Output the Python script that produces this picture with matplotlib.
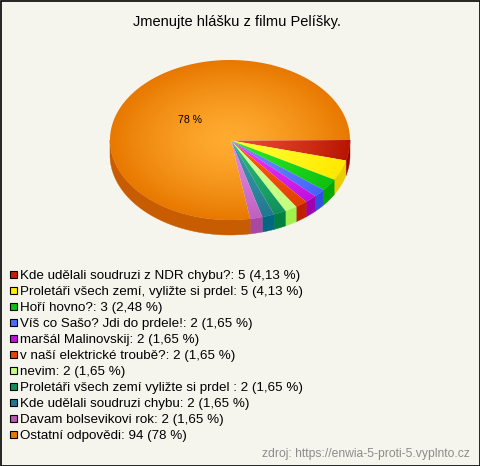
import numpy as np
import matplotlib
matplotlib.use("Agg")
import matplotlib.pyplot as plt
from matplotlib.patches import Polygon, Rectangle

plt.rcParams["font.family"] = ["Liberation Sans", "DejaVu Sans"]

title = "Jmenujte hlášku z filmu Pelíšky."
source = "zdroj: https://enwia-5-proti-5.vyplnto.cz"
labels = [
    "Kde udělali soudruzi z NDR chybu?: 5 (4,13 %)",
    "Proletáři všech zemí, vyližte si prdel: 5 (4,13 %)",
    "Hoří hovno?: 3 (2,48 %)",
    "Víš co Sašo? Jdi do prdele!: 2 (1,65 %)",
    "maršál Malinovskij: 2 (1,65 %)",
    "v naší elektrické troubě?: 2 (1,65 %)",
    "nevim: 2 (1,65 %)",
    "Proletáři všech zemí vyližte si prdel : 2 (1,65 %)",
    "Kde udělali soudruzi chybu: 2 (1,65 %)",
    "Davam bolsevikovi rok: 2 (1,65 %)",
    "Ostatní odpovědi: 94 (78 %)",
]
values = [5, 5, 3, 2, 2, 2, 2, 2, 2, 2, 94]
inner_colors = ["#e84a30", "#ffff30", "#28e828", "#6a8cff", "#e838f8", "#ff5a18",
                "#d0ff90", "#28b878", "#3898a8", "#e088e0", "#ffac30"]
outer_colors = ["#b81500", "#ffe800", "#10c010", "#4464f8", "#c010e0", "#e04000",
                "#c4ff80", "#109058", "#207890", "#c060c0", "#e87800"]
side_colors = ["#a00000", "#e8d000", "#00a800", "#3050e0", "#a000b0", "#c02000",
               "#a0f050", "#008040", "#006880", "#a848a0", "#c85c00"]
legend_colors = ["#c81e00", "#ffee00", "#10c010", "#4a6cf8", "#c010d8", "#e04800",
                 "#c4ff80", "#109058", "#207890", "#b858b0", "#e87800"]

cx, cy, rx, ry, depth = 230, 140, 120, 80, 15
apex_x, apex_y = 231, 140.5

fig = plt.figure(figsize=(4.8, 4.66), dpi=100, facecolor="#f5f5ee")
ax = fig.add_axes([0, 0, 1, 1])
ax.set_xlim(0, 480)
ax.set_ylim(466, 0)
ax.axis("off")

ax.add_patch(Rectangle((0.5, 0.5), 479, 465, fill=False, ec="black", lw=1.2))

# distance from the pie centre, used for the radial shading
xx, yy = np.meshgrid(np.linspace(cx - rx, cx + rx, 240), np.linspace(cy - ry, cy + ry, 160))
dist = np.clip(np.hypot((xx - cx) / rx, (yy - cy) / ry), 0, 1)[..., None] ** 1.4

edges = 2 * np.pi * np.cumsum([0] + values) / sum(values)

# side wall first, only the part facing the viewer
for i in range(len(values)):
    a, b = edges[i], min(edges[i + 1], np.pi)
    if a >= np.pi:
        continue
    t = np.linspace(a, b, 80)
    x = cx + rx * np.cos(t)
    y = cy + ry * np.sin(t)
    pts = np.r_[np.c_[x, y], np.c_[x[::-1], y[::-1] + depth]]
    ax.add_patch(Polygon(pts, fc=side_colors[i], ec=side_colors[i], lw=0.3))

# top surface
for i in range(len(values)):
    t = np.linspace(edges[i], edges[i + 1], 300)
    pts = np.r_[[[apex_x, apex_y]], np.c_[cx + rx * np.cos(t), cy + ry * np.sin(t)]]
    inner = np.array(matplotlib.colors.to_rgb(inner_colors[i]))
    outer = np.array(matplotlib.colors.to_rgb(outer_colors[i]))
    img = inner + (outer - inner) * dist
    im = ax.imshow(img, extent=(cx - rx, cx + rx, cy + ry, cy - ry), aspect="auto",
                   interpolation="bilinear", zorder=2)
    im.set_clip_path(Polygon(pts, transform=ax.transData))

ax.set_xlim(0, 480)
ax.set_ylim(466, 0)

ax.text(190, 120, "78 %", fontsize=7.6, ha="center", va="center", color="black", zorder=3)
ax.text(237, 22, title, fontsize=10.55, ha="center", va="center", color="black")

for i, lab in enumerate(labels):
    y = 274 + i * 16
    ax.add_patch(Rectangle((9.5, y - 3.5), 7.5, 7.5, fc=legend_colors[i], ec="black", lw=0.8))
    ax.text(20, y + 1.5, lab, fontsize=9.64, ha="left", va="center", color="black")

ax.text(470, 454, source, fontsize=8.7, ha="right", va="center", color="#8c8c8c")

fig.savefig("out.png", dpi=100, facecolor=fig.get_facecolor())
